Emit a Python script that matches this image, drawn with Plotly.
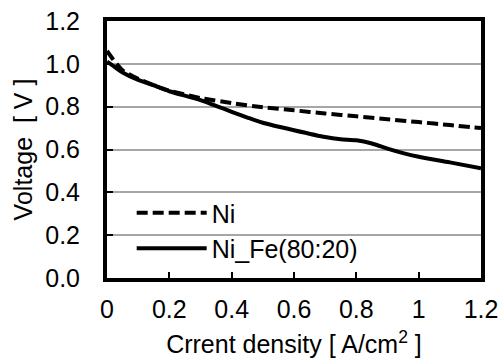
import plotly.graph_objects as go

x_ni = [0, 0.02, 0.05, 0.1, 0.15, 0.2, 0.3, 0.4, 0.5, 0.6, 0.7, 0.8, 0.9, 1.0, 1.1, 1.2]
v_ni = [1.06, 1.02, 0.97, 0.93, 0.90, 0.875, 0.84, 0.817, 0.797, 0.783, 0.768, 0.755, 0.741, 0.728, 0.714, 0.70]

x_nife = [0, 0.02, 0.05, 0.1, 0.15, 0.2, 0.3, 0.4, 0.455, 0.5, 0.6, 0.7, 0.75, 0.8, 0.85, 0.9, 0.95, 1.0, 1.1, 1.2]
v_nife = [1.01, 0.99, 0.96, 0.925, 0.90, 0.872, 0.831, 0.776, 0.747, 0.725, 0.69, 0.658, 0.648, 0.643, 0.628, 0.604, 0.583, 0.566, 0.54, 0.512]

x_ticks = [0, 0.2, 0.4, 0.6, 0.8, 1.0, 1.2]
x_labels = ["0", "0.2", "0.4", "0.6", "0.8", "1", "1.2"]
y_ticks = [0.0, 0.2, 0.4, 0.6, 0.8, 1.0, 1.2]
y_labels = ["0.0", "0.2", "0.4", "0.6", "0.8", "1.0", "1.2"]

FONT = "Liberation Sans, Arial, sans-serif"
FS = 25

fig = go.Figure()
fig.add_trace(go.Scatter(x=x_ni, y=v_ni, mode="lines", name="Ni",
                         line=dict(color="black", width=4, dash="11px,5px", shape="spline", smoothing=0.6)))
fig.add_trace(go.Scatter(x=x_nife, y=v_nife, mode="lines", name="Ni_Fe(80:20)",
                         line=dict(color="black", width=4, shape="spline", smoothing=0.6)))

axis_common = dict(showline=True, linecolor="black", linewidth=4, mirror=True,
                   ticks="inside", ticklen=6, tickwidth=2, tickcolor="black",
                   zeroline=False, automargin=False,
                   tickfont=dict(family=FONT, size=FS, color="black"))

fig.update_xaxes(range=[0, 1.2], tickvals=x_ticks, ticktext=x_labels, showgrid=False,
                 ticklabelstandoff=6,
                 title=dict(text="Crrent density [ A/cm<sup>2</sup> ]", font=dict(family=FONT, size=FS, color="black"), standoff=15),
                 **axis_common)
fig.update_yaxes(range=[0, 1.2], tickvals=y_ticks, ticktext=y_labels, showgrid=True,
                 gridcolor="#a6a6a6", gridwidth=2, ticklabelstandoff=18,
                 title=dict(text="Voltage  [ V ]", font=dict(family=FONT, size=FS, color="black"), standoff=6),
                 **axis_common)

fig.update_layout(
    width=500, height=358,
    margin=dict(l=107, r=19, t=21, b=80),
    paper_bgcolor="white", plot_bgcolor="white",
    showlegend=True,
    legend=dict(x=0.066, y=0.342, xanchor="left", yanchor="top",
                bgcolor="rgba(0,0,0,0)", font=dict(family=FONT, size=FS, color="black"),
                itemwidth=70, tracegroupgap=0),
)

fig.write_html("out.html")
